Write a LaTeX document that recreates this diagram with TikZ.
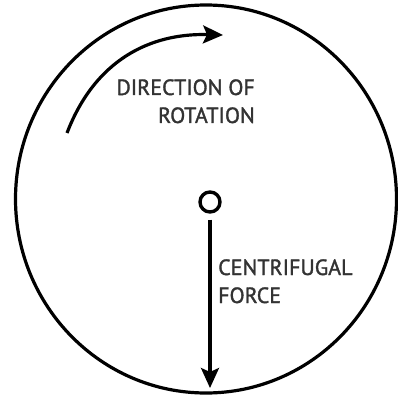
\documentclass[tikz,border=0pt]{standalone}
\usepackage{fontspec}
\setmainfont{PT Sans}
\newfontfamily\lblfont[FakeBold=1.5]{PT Sans}
\usetikzlibrary{arrows.meta}
\begin{document}
\begin{tikzpicture}[x=1pt,y=-1pt,
  thickline/.style={line width=3.2pt},
  lbl/.style={inner sep=0pt, font=\lblfont\fontsize{22}{28}\selectfont, text=black!80},
  tip/.style={-{Stealth[length=20pt,width=18pt,inset=4pt]}}]
\useasboundingbox (0,0) rectangle (398,398);
\draw[thickline] (206,199) ellipse [x radius=190.5, y radius=194];
\node[draw, circle, line width=3.4pt, minimum size=20pt, inner sep=0pt] (hub) at (210,202) {};
\coordinate (fend) at (210,388);
\draw[thickline, tip] (hub.south) ++(0,6) coordinate (fstart) -- (fend);
\coordinate (astart) at (67,133);
\coordinate (aend) at (223,35);
\draw[thickline, tip] (astart) .. controls (95,60) and (150,33) .. (aend);
\node[lbl, anchor=base east, align=right] (dir) at (255,123) {DIRECTION OF\\ROTATION};
\node[lbl, anchor=base west, align=left] (cf) at (218,303) {CENTRIFUGAL\\FORCE};
\end{tikzpicture}
\end{document}
